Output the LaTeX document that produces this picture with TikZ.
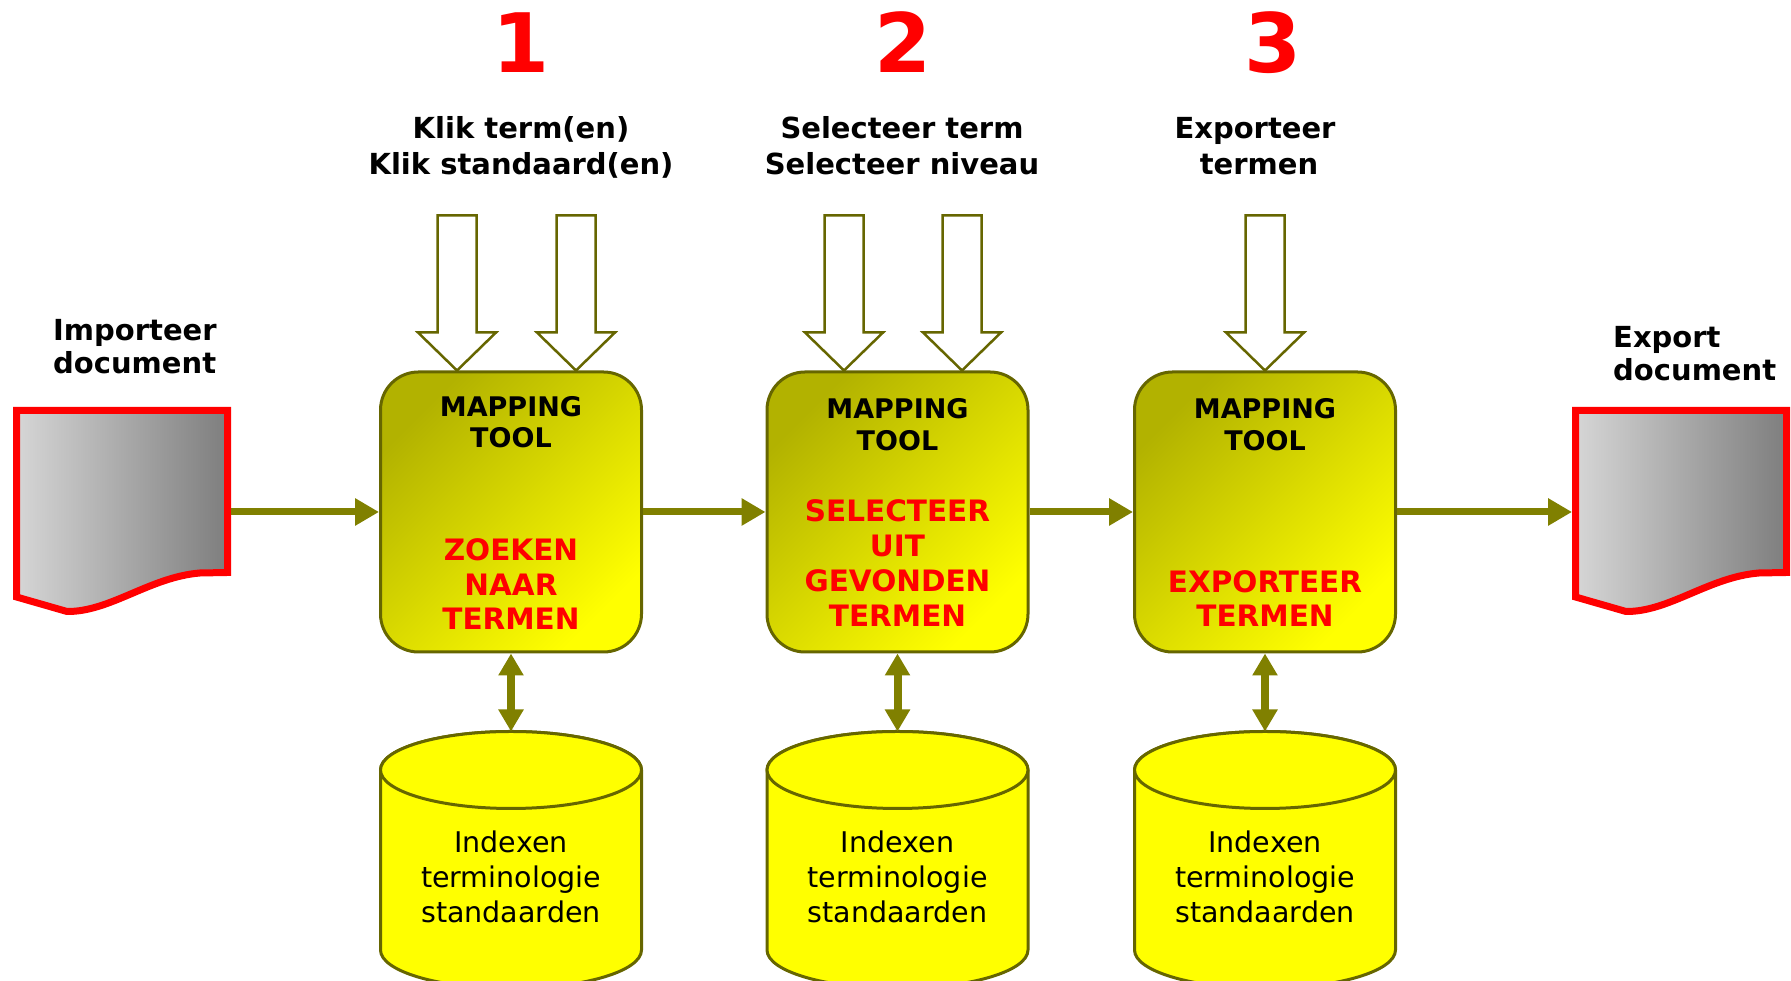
\documentclass[tikz,border=0pt]{standalone}
\usepackage{fontspec}
\setmainfont{DejaVu Sans}
\usetikzlibrary{arrows.meta,calc}
\definecolor{olivearrow}{RGB}{128,128,0}
\definecolor{oliveline}{RGB}{102,102,0}
\definecolor{boxdark}{RGB}{178,178,0}
\definecolor{boxmid}{RGB}{220,220,0}
\definecolor{boxlight}{RGB}{255,255,0}
\definecolor{docred}{RGB}{255,0,0}
\definecolor{docl}{RGB}{214,214,214}
\definecolor{docd}{RGB}{126,126,126}
\begin{document}
\begin{tikzpicture}[x=1pt,y=1pt,
  toolbox/.style={draw=oliveline, line width=3pt, rounded corners=38pt,
    minimum width=261pt, minimum height=280pt, inner sep=0pt,
    top color=boxdark, middle color=boxmid, bottom color=boxlight, shading angle=45},
  lbl/.style={font=\fontsize{29}{35}\selectfont\bfseries, anchor=base, inner sep=0pt},
  tooltxt/.style={font=\fontsize{27}{32}\selectfont\bfseries, anchor=base, inner sep=0pt},
  redtxt/.style={text=docred, font=\fontsize{29.5}{35}\selectfont\bfseries, anchor=base, inner sep=0pt},
  num/.style={text=docred, font=\fontsize{82}{90}\selectfont\bfseries, anchor=base, inner sep=0pt},
  cyltxt/.style={font=\fontsize{28.5}{35}\selectfont, anchor=base, inner sep=0pt},
  docshape/.style={draw=docred, line width=7pt, line join=miter, left color=docl, right color=docd},
  cylshape/.style={draw=oliveline, line width=3pt, fill=boxlight},
  flow/.style={draw=olivearrow, line width=7pt, -{Triangle[length=24pt,width=26pt]}},
  dflow/.style={draw=olivearrow, line width=8pt, {Triangle[length=22pt,width=24pt]}-{Triangle[length=22pt,width=24pt]}},
  pics/harrow/.style={code={
    \draw[draw=oliveline, fill=white, line width=2.5pt, line join=miter]
      (0,0) -- (-39,38) -- (-19.5,38) -- (-19.5,155) -- (19.5,155) -- (19.5,38) -- (39,38) -- cycle;}}
]
\useasboundingbox (0,0) rectangle (1791,981);

% documents
\draw[docshape] (16.5,570.5) -- (227.5,570.5) -- (227.5,408.5) -- (200,408)
  .. controls (150,404) and (110,369) .. (67,369.5) -- (16.5,384) -- cycle;
\draw[docshape] (1575.5,570.5) -- (1786.5,570.5) -- (1786.5,408.5) -- (1759,408)
  .. controls (1709,404) and (1669,369) .. (1626,369.5) -- (1575.5,384) -- cycle;
\coordinate (doc1e) at (231,469);
\coordinate (doc2w) at (1572,469);

\node[lbl, anchor=base west] (imp1) at (53,640.5) {Importeer};
\node[lbl, anchor=base west] (imp2) at (53,607.5) {document};
\node[lbl, anchor=base west] (exp1) at (1613,633.5) {Export};
\node[lbl, anchor=base west] (exp2) at (1613,600.5) {document};

% boxes
\node[toolbox] (box1) at (511,469) {};
\node[toolbox] (box2) at (897.5,469) {};
\node[toolbox] (box3) at (1265,469) {};

% hollow input arrows
\pic at ($(box1.north)+(-54,0)$) {harrow};
\pic at ($(box1.north)+(65,0)$) {harrow};
\pic at ($(box2.north)+(-53.5,0)$) {harrow};
\pic at ($(box2.north)+(64.5,0)$) {harrow};
\pic at (box3.north) {harrow};

% numbers and instructions
\node[num] (n1) at (521,908) {1};
\node[num] (n2) at (903,908) {2};
\node[num] (n3) at (1273,908) {3};
\node[lbl] (i1a) at (521,842.5) {Klik term(en)};
\node[lbl] (i1b) at (521,806.5) {Klik standaard(en)};
\node[lbl] (i2a) at (902,842.5) {Selecteer term};
\node[lbl] (i2b) at (902,806.5) {Selecteer niveau};
\node[lbl] (i3a) at (1255,842.5) {Exporteer};
\node[lbl] (i3b) at (1259,806.5) {termen};

% box texts
\node[tooltxt] (m1a) at (511,564.2) {MAPPING};
\node[tooltxt] (m1b) at (511,533.2) {TOOL};
\node[redtxt] (r1a) at (511,420.4) {ZOEKEN};
\node[redtxt] (r1b) at (511,385.4) {NAAR};
\node[redtxt] (r1c) at (511,351.4) {TERMEN};

\node[tooltxt] (m2a) at (897.5,562.2) {MAPPING};
\node[tooltxt] (m2b) at (897.5,530.2) {TOOL};
\node[redtxt] (r2a) at (897.5,459.4) {SELECTEER};
\node[redtxt] (r2b) at (897.5,424.4) {UIT};
\node[redtxt] (r2c) at (897.5,389.4) {GEVONDEN};
\node[redtxt] (r2d) at (897.5,354.4) {TERMEN};

\node[tooltxt] (m3a) at (1265,562.2) {MAPPING};
\node[tooltxt] (m3b) at (1265,530.2) {TOOL};
\node[redtxt] (r3a) at (1265,388.4) {EXPORTEER};
\node[redtxt] (r3b) at (1265,354.4) {TERMEN};

% flow arrows
\draw[flow] (doc1e) -- (box1.west);
\draw[flow] (box1.east) -- (box2.west);
\draw[flow] (box2.east) -- (box3.west);
\draw[flow] (box3.east) -- (doc2w);

% cylinders
\foreach \cx/\nm in {511/1, 897.5/2, 1265/3}{
  \draw[cylshape] (\cx-130.5,211) -- (\cx-130.5,31)
    arc[start angle=180, end angle=360, x radius=130.5, y radius=38.5]
    -- (\cx+130.5,211)
    arc[start angle=0, end angle=180, x radius=130.5, y radius=38.5] -- cycle;
  \draw[cylshape] (\cx,211) ellipse[x radius=130.5, y radius=38.5];
  \coordinate (cyl\nm) at (\cx,249.5);
  \node[cyltxt] (ca\nm) at (\cx,128.6) {Indexen};
  \node[cyltxt] (cb\nm) at (\cx,93.6) {terminologie};
  \node[cyltxt] (cc\nm) at (\cx,58.6) {standaarden};
}

% double arrows
\draw[dflow] (box1.south) -- (cyl1);
\draw[dflow] (box2.south) -- (cyl2);
\draw[dflow] (box3.south) -- (cyl3);
\end{tikzpicture}
\end{document}
